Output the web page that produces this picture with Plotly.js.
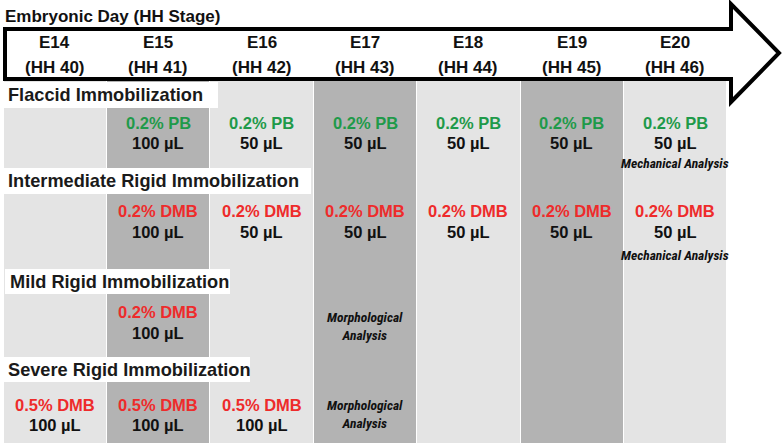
<!DOCTYPE html>
<html>
<head>
<meta charset="utf-8">
<script src="https://cdn.plot.ly/plotly-3.0.1.min.js"></script>
<style>html,body{margin:0;padding:0;background:#fff;}#chart{width:784px;height:445px;}</style>
</head>
<body>
<div id="chart"></div>
<script>
// ---- data ----
const axisTitle = 'Embryonic Day (HH Stage)';
const days = ['E14', 'E15', 'E16', 'E17', 'E18', 'E19', 'E20'];
const stages = ['(HH 40)', '(HH 41)', '(HH 42)', '(HH 43)', '(HH 44)', '(HH 45)', '(HH 46)'];
const groups = ['Flaccid Immobilization', 'Intermediate Rigid Immobilization', 'Mild Rigid Immobilization', 'Severe Rigid Immobilization'];
const flaccidDose = ['', '0.2% PB', '0.2% PB', '0.2% PB', '0.2% PB', '0.2% PB', '0.2% PB'];
const flaccidVolume = ['', '100 µL', '50 µL', '50 µL', '50 µL', '50 µL', '50 µL'];
const flaccidNote = ['', '', '', '', '', '', 'Mechanical Analysis'];
const intermediateDose = ['', '0.2% DMB', '0.2% DMB', '0.2% DMB', '0.2% DMB', '0.2% DMB', '0.2% DMB'];
const intermediateVolume = ['', '100 µL', '50 µL', '50 µL', '50 µL', '50 µL', '50 µL'];
const intermediateNote = ['', '', '', '', '', '', 'Mechanical Analysis'];
const mildDose = ['', '0.2% DMB', '', '', '', '', ''];
const mildVolume = ['', '100 µL', '', '', '', '', ''];
const mildNote = ['', '', '', 'Morphological<br>Analysis', '', '', ''];
const severeDose = ['0.5% DMB', '0.5% DMB', '0.5% DMB', '', '', '', ''];
const severeVolume = ['100 µL', '100 µL', '100 µL', '', '', '', ''];
const severeNote = ['', '', '', 'Morphological<br>Analysis', '', '', ''];

// ---- layout constants (pixels) ----
const W = 784, H = 445;
const colLeft = 3, colRight = 727;
const colW = (colRight - colLeft) / days.length;
const colTop = 81, colBottom = 443;
const LIGHT = '#e4e4e4', DARK = '#b3b3b3';
const GREEN = '#1f9a4a', RED = '#ee2b2b';
const FONT = 'Liberation Sans, Arial, sans-serif';
const NARROW = 'Roboto Condensed, Liberation Sans, sans-serif';

const shades = days.map((d, i) => (i % 2 === 1 ? DARK : LIGHT));

const traces = [{
  type: 'bar',
  x: days,
  y: days.map(() => colBottom - colTop),
  base: colTop,
  width: 0.99,
  marker: {color: shades, line: {width: 0}},
  hoverinfo: 'skip',
  showlegend: false
}];

const annotations = [];
const shapes = [];
const px = v => v / W;

// title
annotations.push({xref: 'paper', yref: 'y', x: px(3), y: 16, xanchor: 'left', yanchor: 'middle',
  text: axisTitle, showarrow: false, font: {family: FONT, size: 17, weight: 'bold', color: '#111'}});

// arrow
shapes.push({type: 'path', xref: 'paper', yref: 'y', layer: 'above',
  path: `M ${px(5)},29 L ${px(731)},29 L ${px(731)},4 L ${px(779)},53 L ${px(731)},102 L ${px(731)},79 L ${px(5)},79 Z`,
  line: {color: '#000', width: 4}, fillcolor: 'rgba(0,0,0,0)'});

// day labels
days.forEach((d, i) => {
  annotations.push({x: d, y: 42, xanchor: 'center', yanchor: 'middle', text: d, showarrow: false,
    font: {family: FONT, size: 17, weight: 'bold', color: '#111'}});
  annotations.push({x: d, y: 67, xanchor: 'center', yanchor: 'middle', text: stages[i], showarrow: false,
    font: {family: FONT, size: 17, weight: 'bold', color: '#111'}});
});

// group labels with white boxes
const groupBoxes = [[3, 218, 82, 108, 95], [3, 311, 168, 194, 181], [5, 230, 269, 294, 282], [3, 250, 357, 382, 370]];
groups.forEach((g, k) => {
  const b = groupBoxes[k];
  shapes.push({type: 'rect', xref: 'paper', yref: 'y', x0: px(b[0]), x1: px(b[1]), y0: b[2], y1: b[3],
    fillcolor: '#fff', line: {width: 0}, layer: 'above'});
  annotations.push({xref: 'paper', yref: 'y', x: px(b[0] + 3), y: b[4], xanchor: 'left', yanchor: 'middle',
    text: g, showarrow: false, font: {family: FONT, size: 18.2, weight: 'bold', color: '#1a1a1a'}});
});

function addRow(doses, vols, notes, yDose, yVol, yNote) {
  days.forEach((d, i) => {
    if (doses[i]) annotations.push({x: d, y: yDose, text: doses[i], showarrow: false, yanchor: 'middle',
      font: {family: FONT, size: 16.5, weight: 'bold', color: doses[i].includes('PB') ? GREEN : RED}});
    if (vols[i]) annotations.push({x: d, y: yVol, text: vols[i], showarrow: false, yanchor: 'middle',
      font: {family: FONT, size: 16.5, weight: 'bold', color: '#111'}});
    if (notes[i]) annotations.push({x: d, y: yNote, text: notes[i], showarrow: false, yanchor: 'middle',
      font: {family: NARROW, size: 13.5, weight: 'bold', style: 'italic', color: '#111'}});
  });
}
addRow(flaccidDose, flaccidVolume, flaccidNote, 123, 143, 163);
addRow(intermediateDose, intermediateVolume, intermediateNote, 211, 232, 255);
addRow(mildDose, mildVolume, mildNote, 312, 333, 326);
addRow(severeDose, severeVolume, severeNote, 405, 425, 414);

const layout = {
  width: W, height: H,
  margin: {l: 0, r: 0, t: 0, b: 0},
  paper_bgcolor: '#fff', plot_bgcolor: '#fff',
  xaxis: {type: 'category', range: [-0.5 - colLeft / colW, -0.5 + (W - colLeft) / colW],
    visible: false, fixedrange: true},
  yaxis: {range: [H, 0], visible: false, fixedrange: true},
  bargap: 0,
  showlegend: false,
  shapes: shapes,
  annotations: annotations
};

Plotly.newPlot('chart', traces, layout, {displayModeBar: false, staticPlot: true});
</script>
</body>
</html>
